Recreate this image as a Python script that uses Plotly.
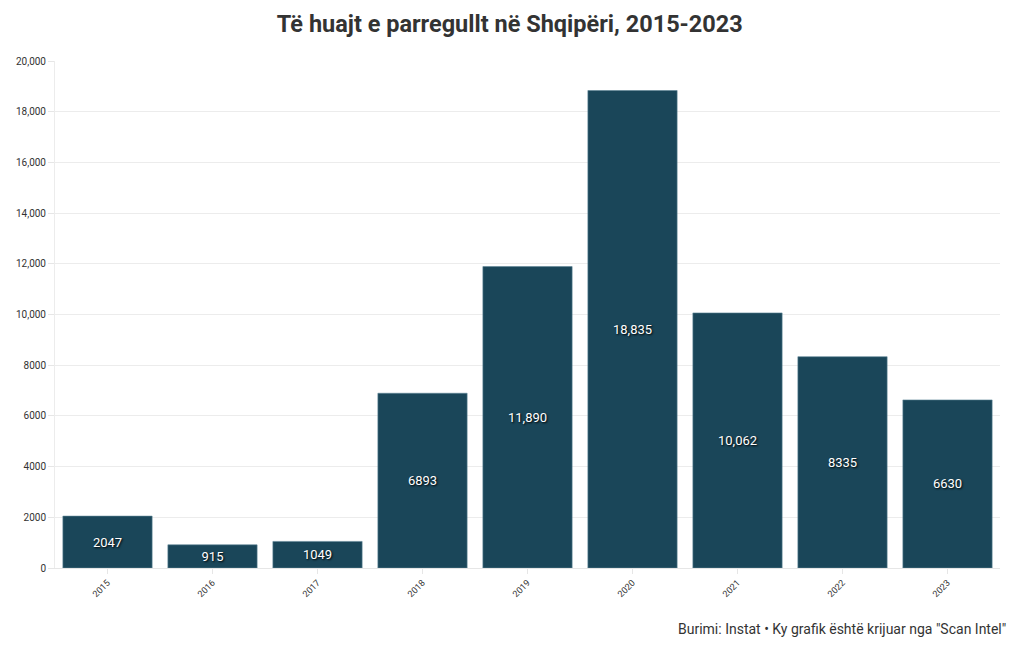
import plotly.graph_objects as go

years = ["2015", "2016", "2017", "2018", "2019", "2020", "2021", "2022", "2023"]
counts = [2047, 915, 1049, 6893, 11890, 18835, 10062, 8335, 6630]

BAR = "#1a4659"
FONT = "Roboto, sans-serif"


def label(v):
    # four-digit numbers stay unseparated, like the axis ticks
    return f"{v:,}" if v >= 10000 else str(v)


fig = go.Figure(go.Bar(
    x=years, y=counts, marker_color=BAR,
    marker_line=dict(color="#5d8495", width=0.6),
    text=[label(v) for v in counts], textposition="inside",
    insidetextanchor="middle", textangle=0,
    textfont=dict(color="white", size=13, family=FONT,
                  shadow="1px 1px 2px #000"),
    hovertemplate="%{x}: %{y}<extra></extra>"))

# the page body adds an 8px offset, so margins are trimmed to compensate
fig.update_layout(
    width=1020, height=650,
    paper_bgcolor="white", plot_bgcolor="white",
    font=dict(family=FONT, color="#333"),
    margin=dict(l=47, r=28, t=53, b=90),
    bargap=0.15,
    showlegend=False,
    title=dict(text="<b>Të huajt e parregullt në Shqipëri, 2015-2023</b>",
               x=0.492, xanchor="center", y=0.975, yanchor="middle",
               font=dict(size=23.5, color="#333", family=FONT)),
    xaxis=dict(tickangle=-45, tickfont=dict(size=9, color="#333"),
               showgrid=False, ticks="outside", ticklen=5,
               tickcolor="#e6e6e6", showline=True, linecolor="#e6e6e6",
               automargin=False),
    yaxis=dict(range=[0, 20000], dtick=2000, exponentformat="none",
               tickfont=dict(size=10, color="#333"), gridcolor="#ececec",
               ticks="outside", ticklen=6, tickcolor="#e6e6e6",
               showline=True, linecolor="#ececec", zeroline=False,
               automargin=False),
)

fig.add_annotation(text='Burimi: Instat • Ky grafik është krijuar nga "Scan Intel"',
                   xref="paper", yref="paper", x=1.0085, y=-0.12,
                   xanchor="right", yanchor="middle", showarrow=False,
                   font=dict(size=14, color="#333", family=FONT))

fig.write_html("out.html")
